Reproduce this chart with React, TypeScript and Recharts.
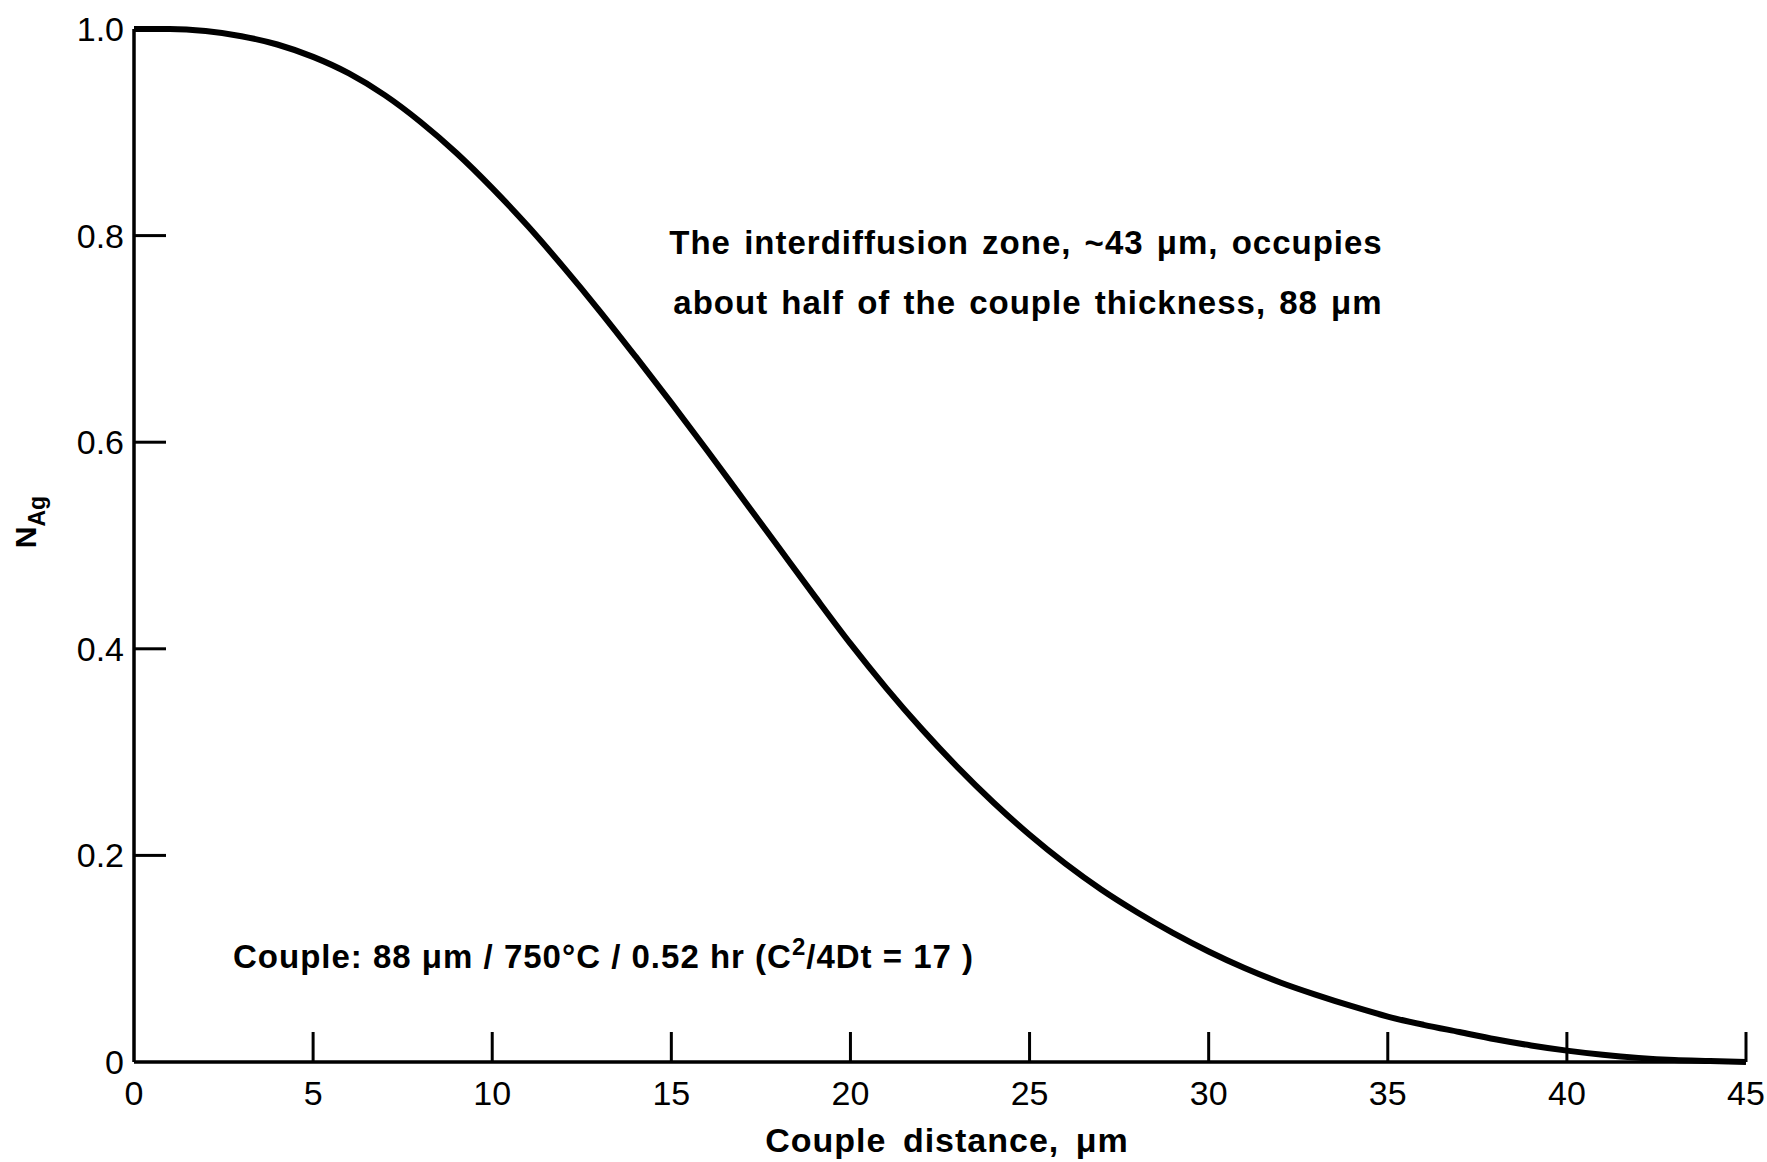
import React from "react";
import { LineChart, Line, XAxis, YAxis } from "recharts";

// couple distance (µm) and silver fraction
const distance = [
  0, 1, 2, 3, 4, 5, 6, 7, 8, 9, 10, 11, 12, 13, 14, 15, 16, 17, 18, 19, 20, 21, 22,
  23, 24, 25, 26, 27, 28, 29, 30, 31, 32, 33, 34, 35, 36, 37, 38, 39, 40, 41, 42,
  43, 44, 45,
];
const nAg = [
  1.0, 1.0, 0.998, 0.993, 0.985, 0.973, 0.957, 0.936, 0.91, 0.88, 0.846, 0.809,
  0.769, 0.727, 0.683, 0.638, 0.592, 0.545, 0.498, 0.451, 0.405, 0.362, 0.322,
  0.285, 0.251, 0.22, 0.192, 0.167, 0.145, 0.125, 0.107, 0.091, 0.077, 0.065,
  0.054, 0.044, 0.036, 0.029, 0.022, 0.016, 0.011, 0.007, 0.004, 0.002, 0.001, 0,
];

const xTicks = [0, 5, 10, 15, 20, 25, 30, 35, 40, 45];
const yTicks = [0, 0.2, 0.4, 0.6, 0.8, 1.0];
const yTickLabels = ["0", "0.2", "0.4", "0.6", "0.8", "1.0"];

const noteLines = [
  "The interdiffusion zone, ~43 \u03bcm, occupies",
  "about half of the couple thickness, 88 \u03bcm",
];

const data = distance.map((d, i) => ({ d, n: nAg[i] }));

const FONT = "'Liberation Sans', Arial, sans-serif";

const XTick = (props: any) => {
  const { x, y, payload } = props;
  const v = payload.value;
  return (
    <g>
      {v !== 0 && (
        <line x1={x} x2={x} y1={y} y2={y - 30} stroke="#000" strokeWidth={3} />
      )}
      <text
        x={x}
        y={y + 43}
        textAnchor="middle"
        fontFamily={FONT}
        fontSize={34}
        fill="#000"
      >
        {v}
      </text>
    </g>
  );
};

const YTick = (props: any) => {
  const { x, y, payload } = props;
  const v = payload.value;
  const idx = yTicks.indexOf(v);
  return (
    <g>
      {v !== 0 && v !== 1 && (
        <line x1={x} x2={x + 32} y1={y} y2={y} stroke="#000" strokeWidth={3} />
      )}
      <text
        x={x - 10}
        y={y + 12}
        textAnchor="end"
        fontFamily={FONT}
        fontSize={34}
        fill="#000"
      >
        {idx >= 0 ? yTickLabels[idx] : v}
      </text>
    </g>
  );
};

export default function App() {
  return (
    <div style={{ position: "fixed", left: 0, top: 0, background: "#fff" }}>
      <LineChart
        width={1767}
        height={1162}
        data={data}
        margin={{ top: 29, right: 21, bottom: 60, left: 74 }}
      >
        <XAxis
          dataKey="d"
          type="number"
          domain={[0, 45]}
          ticks={xTicks}
          interval={0}
          height={40}
          tickSize={0}
          tickMargin={0}
          tick={<XTick />}
          axisLine={{ stroke: "#000", strokeWidth: 3.5 }}
          tickLine={false}
        />
        <YAxis
          type="number"
          domain={[0, 1]}
          ticks={yTicks}
          interval={0}
          width={60}
          tickSize={0}
          tickMargin={0}
          tick={<YTick />}
          axisLine={{ stroke: "#000", strokeWidth: 3.5 }}
          tickLine={false}
        />
        <Line
          type="monotone"
          dataKey="n"
          stroke="#000"
          strokeWidth={6}
          dot={false}
          isAnimationActive={false}
        />
        <text
          x={1026}
          y={254}
          textAnchor="middle"
          fontFamily={FONT}
          fontWeight="bold"
          fontSize={33}
          letterSpacing={1}
          wordSpacing={3}
          fill="#000"
        >
          {noteLines[0]}
        </text>
        <text
          x={1028}
          y={314}
          textAnchor="middle"
          fontFamily={FONT}
          fontWeight="bold"
          fontSize={33}
          letterSpacing={1}
          wordSpacing={3}
          fill="#000"
        >
          {noteLines[1]}
        </text>
        <text
          x={233}
          y={968}
          fontFamily={FONT}
          fontWeight="bold"
          fontSize={33}
          letterSpacing={1}
          fill="#000"
        >
          Couple: 88 {"\u03bc"}m / 750°C / 0.52 hr (C
          <tspan dy={-13} fontSize={24}>
            2
          </tspan>
          <tspan dy={13}>/4Dt = 17 )</tspan>
        </text>
        <text
          x={947}
          y={1152}
          textAnchor="middle"
          fontFamily={FONT}
          fontWeight="bold"
          fontSize={34}
          letterSpacing={1}
          wordSpacing={6}
          fill="#000"
        >
          Couple distance, {"\u03bc"}m
        </text>
        <text
          transform="translate(36, 522) rotate(-90)"
          textAnchor="middle"
          fontFamily={FONT}
          fontWeight="bold"
          fontSize={30}
          fill="#000"
        >
          N
          <tspan dy={9} fontSize={23}>
            Ag
          </tspan>
        </text>
      </LineChart>
    </div>
  );
}
